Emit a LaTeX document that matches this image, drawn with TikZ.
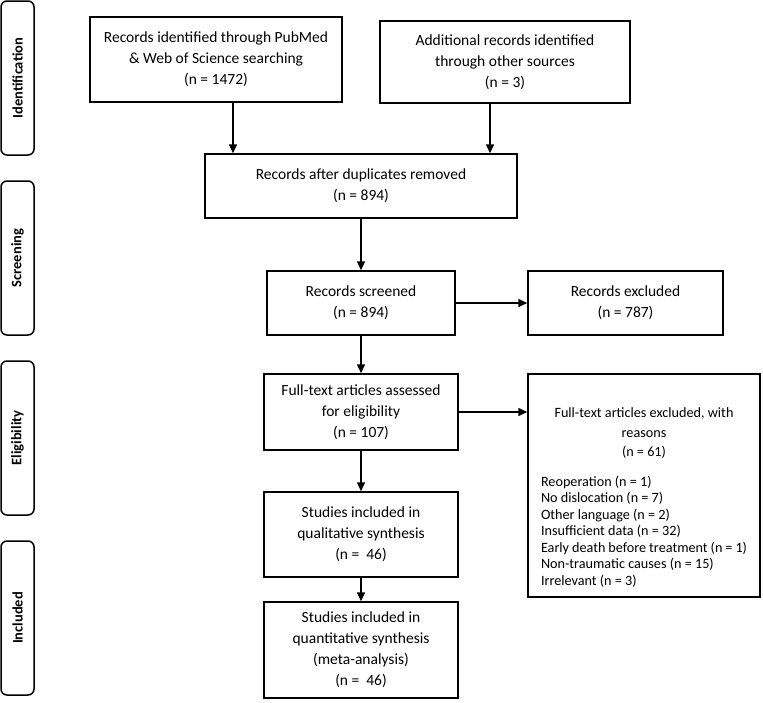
\documentclass[tikz,border=0pt]{standalone}
\usepackage{fontspec}
\setmainfont{Carlito}
\usepackage{tikz}
\usetikzlibrary{arrows.meta}

\begin{document}
\begin{tikzpicture}[x=1pt,y=-1pt,
        box/.style={draw,line width=1.5pt,align=center,inner sep=2pt,font=\fontsize{15.5}{21}\selectfont},
        phase/.style={draw,line width=1.5pt,rounded corners=6pt,rotate=90,minimum width=154pt,minimum height=33pt,inner sep=0pt,font=\fontsize{14.5}{16}\selectfont\bfseries},
        arr/.style={line width=1.5pt,-{Triangle[length=9pt,width=8pt]}}]
                \useasboundingbox (0,0) rectangle (763,702);

                \node[phase] (pid)  at (17.5,78)  {Identification};
                \node[phase] (pscr) at (17.5,258) {Screening};
                \node[phase] (pel)  at (17.5,438) {Eligibility};
                \node[phase] (pinc) at (17.5,618) {Included};

                \node[box,minimum width=252pt,minimum height=85pt] (idb) at (216,59.5) {Records identified through PubMed\\ \& Web of Science searching\\ (n = 1472)};
                \node[box,minimum width=250pt,minimum height=82pt] (oth) at (505,62) {Additional records identified\\ through other sources\\ (n = 3)};
                \node[box,minimum width=312pt,minimum height=64pt] (dup) at (361,186) {Records after duplicates removed\\ (n = 894)};
                \node[box,minimum width=188pt,minimum height=64pt] (scr) at (361,303) {Records screened\\ (n = 894)};
                \node[box,minimum width=195pt,minimum height=64pt] (recex) at (625.5,303) {Records excluded\\ (n = 787)};
                \node[box,minimum width=194pt,minimum height=76pt] (full) at (361,412) {Full-text articles assessed\\ for eligibility\\ (n = 107)};
                \node[box,minimum width=194pt,minimum height=85pt] (qual) at (361,534.5) {Studies included in\\ qualitative synthesis\\ (n = \ 46)};
                \node[box,minimum width=194pt,minimum height=96pt] (quant) at (361,650) {Studies included in\\ quantitative synthesis\\ (meta-analysis)\\ (n = \ 46)};

                \node[draw,line width=1.5pt,inner xsep=13pt,inner ysep=0pt] (ftex) at (644,485.5) {\begin{minipage}[c][223pt][t]{206pt}
                        \fontsize{14.2}{16.5}\selectfont
                        \vspace*{34pt}
                        {\centering\baselineskip=19.5pt Full-text articles excluded, with\\ reasons\\ (n = 61)\par}
                        \vspace{13pt}
                        \raggedright
                        Reoperation (n = 1)\\
                        No dislocation (n = 7)\\
                        Other language (n = 2)\\
                        Insufficient data (n = 32)\\
                        Early death before treatment (n = 1)\\
                        Non-traumatic causes (n = 15)\\
                        Irrelevant (n = 3)
                \end{minipage}};

                \draw[arr] ([xshift=17pt]idb.south) -- ([xshift=17pt]idb.south |- dup.north);
                \draw[arr] ([xshift=-15pt]oth.south) -- ([xshift=-15pt]oth.south |- dup.north);
                \draw[arr] (dup) -- (scr);
                \draw[arr] (scr) -- (recex);
                \draw[arr] (scr) -- (full);
                \draw[arr] (full.east) -- (full.east -| ftex.west);
                \draw[arr] (full) -- (qual);
                \draw[arr] (qual) -- (quant);

\end{tikzpicture}
\end{document}
